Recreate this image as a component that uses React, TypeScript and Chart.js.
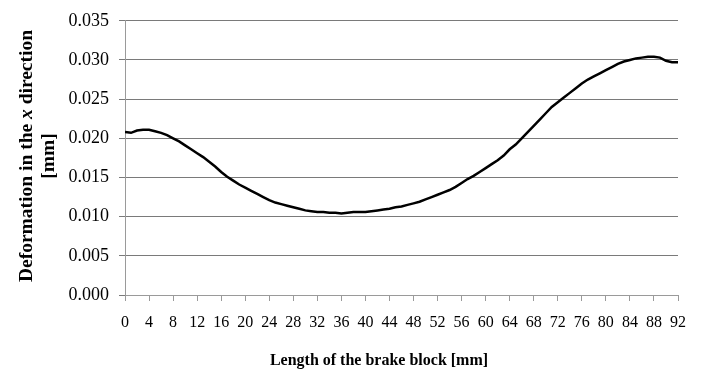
import { useEffect, useRef } from "react";
import { Chart, registerables } from "chart.js";

Chart.register(...registerables);

// Length along the brake block [mm]
const lengthMm = [
  0, 1, 2, 3, 4, 5, 6, 7, 8, 9, 10, 11, 12, 13, 14, 15, 16, 17, 18, 19, 20,
  21, 22, 23, 24, 25, 26, 27, 28, 29, 30, 31, 32, 33, 34, 35, 36, 37, 38, 39,
  40, 41, 42, 43, 44, 45, 46, 47, 48, 49, 50, 51, 52, 53, 54, 55, 56, 57, 58,
  59, 60, 61, 62, 63, 64, 65, 66, 67, 68, 69, 70, 71, 72, 73, 74, 75, 76, 77,
  78, 79, 80, 81, 82, 83, 84, 85, 86, 87, 88, 89, 90, 91, 92,
];

// Deformation in the x direction [mm]
const deformation = [
  0.0208, 0.0207, 0.021, 0.0211, 0.0211, 0.0209, 0.0207, 0.0204, 0.02, 0.0196,
  0.0191, 0.0186, 0.0181, 0.0176, 0.017, 0.0164, 0.0157, 0.0151, 0.0146, 0.0141,
  0.0137, 0.0133, 0.0129, 0.0125, 0.0121, 0.0118, 0.0116, 0.0114, 0.0112, 0.011,
  0.0108, 0.0107, 0.0106, 0.0106, 0.0105, 0.0105, 0.0104, 0.0105, 0.0106, 0.0106,
  0.0106, 0.0107, 0.0108, 0.0109, 0.011, 0.0112, 0.0113, 0.0115, 0.0117, 0.0119,
  0.0122, 0.0125, 0.0128, 0.0131, 0.0134, 0.0138, 0.0143, 0.0148, 0.0152, 0.0157,
  0.0162, 0.0167, 0.0172, 0.0178, 0.0186, 0.0192, 0.02, 0.0208, 0.0216, 0.0224,
  0.0232, 0.024, 0.0246, 0.0252, 0.0258, 0.0264, 0.027, 0.0275, 0.0279, 0.0283,
  0.0287, 0.0291, 0.0295, 0.0298, 0.03, 0.0302, 0.0303, 0.0304, 0.0304, 0.0303,
  0.0299, 0.0297, 0.0297,
];

const yTickValues = [0, 0.005, 0.01, 0.015, 0.02, 0.025, 0.03, 0.035];
const xTickValues = [0, 4, 8, 12, 16, 20, 24, 28, 32, 36, 40, 44, 48, 52, 56, 60, 64, 68, 72, 76, 80, 84, 88, 92];

const xTitle = "Length of the brake block [mm]";
const yTitleParts = [
  { text: "Deformation in the ", italic: false },
  { text: "x", italic: true },
  { text: " direction", italic: false },
];
const yTitleLine2 = "[mm]";

const SERIF = "'Liberation Serif', 'Times New Roman', serif";

export default function App() {
  const ref = useRef<HTMLCanvasElement>(null);

  useEffect(() => {
    document.body.style.margin = "0";
    const canvas = ref.current!;

    const titlePlugin = {
      id: "customTitles",
      afterDraw(chart: any) {
        const ctx = chart.ctx as CanvasRenderingContext2D;
        ctx.save();
        ctx.fillStyle = "#000";
        // X-axis title
        ctx.font = `bold 16px ${SERIF}`;
        ctx.textAlign = "center";
        ctx.textBaseline = "alphabetic";
        ctx.fillText(xTitle, 379, 365);
        ctx.restore();

        // Y-axis title (rotated, with italic x)
        ctx.save();
        ctx.fillStyle = "#000";
        ctx.textBaseline = "alphabetic";
        ctx.textAlign = "left";
        const size = 19.5;
        const fonts = yTitleParts.map((p) =>
          p.italic ? `italic bold ${size}px ${SERIF}` : `bold ${size}px ${SERIF}`
        );
        let total = 0;
        const widths = yTitleParts.map((p, i) => {
          ctx.font = fonts[i];
          const w = ctx.measureText(p.text).width;
          total += w;
          return w;
        });
        ctx.translate(32, 156);
        ctx.rotate(-Math.PI / 2);
        let cx = -total / 2;
        yTitleParts.forEach((p, i) => {
          ctx.font = fonts[i];
          ctx.fillText(p.text, cx, 0);
          cx += widths[i];
        });
        ctx.restore();

        ctx.save();
        ctx.fillStyle = "#000";
        ctx.font = `bold ${size}px ${SERIF}`;
        ctx.textAlign = "center";
        ctx.textBaseline = "alphabetic";
        ctx.translate(54, 156);
        ctx.rotate(-Math.PI / 2);
        ctx.fillText(yTitleLine2, 0, 0);
        ctx.restore();
      },
    };

    const chart = new Chart(canvas, {
      type: "line",
      data: {
        datasets: [
          {
            data: lengthMm.map((x, i) => ({ x, y: deformation[i] })),
            borderColor: "#000",
            borderWidth: 2.5,
            pointRadius: 0,
            tension: 0,
            fill: false,
          },
        ],
      },
      options: {
        responsive: false,
        animation: false,
        devicePixelRatio: 1,
        layout: { padding: { top: 20, right: 24, left: 0, bottom: 0 } },
        plugins: { legend: { display: false }, tooltip: { enabled: false } },
        scales: {
          x: {
            type: "linear",
            min: 0,
            max: 92,
            afterBuildTicks: (scale: any) => {
              scale.ticks = xTickValues.map((v) => ({ value: v }));
            },
            ticks: {
              autoSkip: false,
              maxRotation: 0,
              color: "#000",
              padding: 12,
              font: { family: SERIF, size: 16 },
            },
            grid: {
              drawOnChartArea: false,
              drawTicks: true,
              tickLength: 6,
              color: "#9a9a9a",
            },
            border: { color: "#9a9a9a" },
            afterFit: (scale: any) => {
              scale.height = 74;
            },
          },
          y: {
            min: 0,
            max: 0.035,
            afterBuildTicks: (scale: any) => {
              scale.ticks = yTickValues.map((v) => ({ value: v }));
            },
            ticks: {
              color: "#000",
              padding: 10,
              font: { family: SERIF, size: 18 },
              callback: (v: any) => Number(v).toFixed(3),
            },
            grid: { color: "#7a7a7a", tickLength: 6 },
            border: { color: "#9a9a9a" },
            afterFit: (scale: any) => {
              scale.width = 125;
            },
          },
        },
      },
      plugins: [titlePlugin],
    });

    return () => chart.destroy();
  }, []);

  return (
    <canvas
      ref={ref}
      width={702}
      height={369}
      style={{ display: "block", width: "702px", height: "369px" }}
    />
  );
}
